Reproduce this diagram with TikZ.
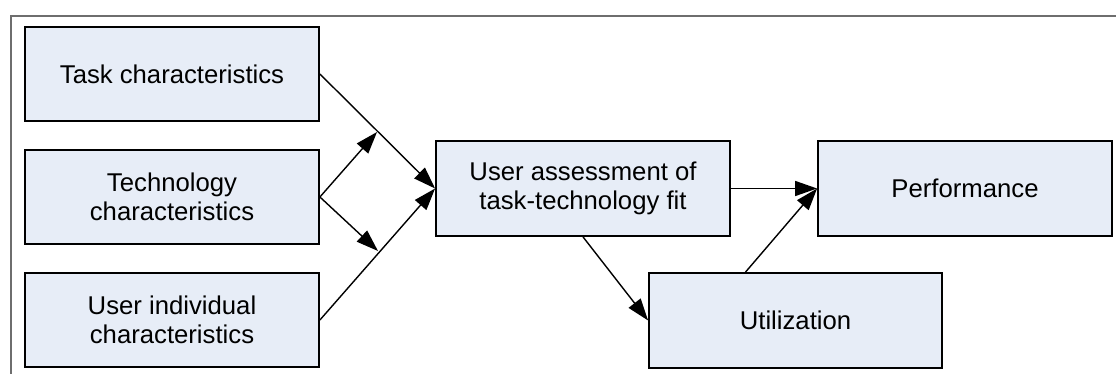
\documentclass[tikz,border=0pt]{standalone}
\usepackage{fontspec}
\setmainfont{Liberation Sans}
\usetikzlibrary{arrows.meta}
\definecolor{boxfill}{RGB}{231,237,247}
\definecolor{framegray}{RGB}{110,110,110}
\begin{document}
\begin{tikzpicture}[x=1pt,y=-1pt,
  box/.style={draw=black,line width=1.8pt,fill=boxfill,rectangle,
    minimum width=294pt,minimum height=94pt,inner sep=0pt,
    align=center,font=\fontsize{25.7}{29}\selectfont},
  conn/.style={line width=1.4pt,-{Triangle[length=22pt,width=15pt]}},
  plain/.style={line width=1.4pt}]
\useasboundingbox (0,0) rectangle (1116,374);
\draw[framegray,line width=1.3pt] (11,374) -- (11,16) -- (1116,16);
\node[box] (task) at (172,74) {Task characteristics};
\node[box] (tech) at (172,197) {Technology\\characteristics};
\node[box] (user) at (172,320) {User individual\\characteristics};
\node[box,minimum height=95pt] (ua) at (583,188.5) {User assessment of\\task-technology fit};
\node[box,minimum width=293pt,minimum height=95pt] (util) at (795.5,320.5) {Utilization};
\node[box,minimum height=95pt] (perf) at (965,188.5) {Performance};
\coordinate (j1) at (377,132);
\coordinate (j2) at (378,251);
\draw[conn] (task.east) -- (ua.west);
\draw[conn] (user.east) -- (ua.west);
\draw[conn] (tech.east) -- (j1);
\draw[conn] (tech.east) -- (j2);
\draw[conn] (ua.east) -- (perf.west);
\draw[conn] (ua.south) -- (util.west);
\draw[conn] ([xshift=-50pt]util.north) -- (perf.west);
\end{tikzpicture}
\end{document}
